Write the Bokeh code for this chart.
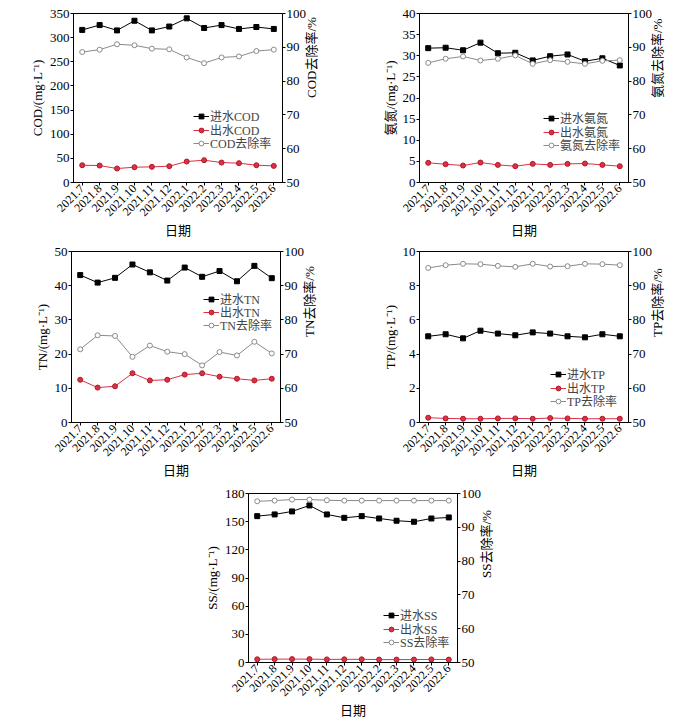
import math
from bokeh.plotting import figure
from bokeh.models import LinearAxis, Range1d, FixedTicker, Legend, Spacer
from bokeh.layouts import column, row
from bokeh.embed import file_html
from bokeh.resources import INLINE

months = ["2021.7", "2021.8", "2021.9", "2021.10", "2021.11", "2021.12",
          "2022.1", "2022.2", "2022.3", "2022.4", "2022.5", "2022.6"]

cod_in = [316, 326, 315, 335, 315, 323, 340, 320, 326, 318, 322, 318]
cod_out = [35.8, 35.1, 28.9, 31.7, 32.4, 33.8, 43.4, 46.2, 41.3, 40.0, 35.8, 34.4]
cod_rate = [88.6, 89.3, 90.9, 90.6, 89.6, 89.4, 87.0, 85.3, 87.0, 87.3, 88.9, 89.3]

nh_in = [31.8, 31.9, 31.3, 33.1, 30.6, 30.7, 28.9, 29.9, 30.3, 28.7, 29.4, 27.7]
nh_out = [4.65, 4.33, 4.02, 4.72, 4.17, 3.86, 4.41, 4.17, 4.41, 4.49, 4.17, 3.86]
nh_rate = [85.4, 86.6, 87.3, 86.1, 86.6, 87.6, 85.1, 86.2, 85.7, 85.1, 86.0, 86.2]

tn_in = [43.1, 40.9, 42.3, 46.2, 43.9, 41.5, 45.3, 42.6, 44.3, 41.3, 45.8, 42.2]
tn_out = [12.5, 10.2, 10.6, 14.4, 12.3, 12.5, 14.0, 14.4, 13.4, 12.8, 12.3, 12.8]
tn_rate = [71.4, 75.5, 75.3, 69.2, 72.5, 70.7, 70.0, 66.7, 70.6, 69.6, 73.6, 70.2]

tp_in = [5.04, 5.16, 4.92, 5.37, 5.20, 5.10, 5.27, 5.20, 5.04, 4.98, 5.16, 5.04]
tp_out = [0.28, 0.24, 0.22, 0.22, 0.24, 0.24, 0.22, 0.26, 0.24, 0.22, 0.22, 0.22]
tp_rate = [95.2, 96.0, 96.4, 96.3, 95.8, 95.5, 96.4, 95.6, 95.7, 96.4, 96.3, 96.0]

ss_in = [155.9, 157.7, 160.9, 167.3, 157.7, 154.1, 155.9, 153.4, 151.0, 149.9, 153.4, 154.5]
ss_out = [3.4, 3.6, 3.6, 3.6, 3.3, 3.4, 3.4, 3.1, 3.1, 3.1, 3.3, 3.1]
ss_rate = [97.7, 97.9, 98.2, 98.2, 98.0, 97.9, 97.9, 97.9, 97.9, 97.9, 97.9, 97.9]

SERIF = "Liberation Serif, Noto Sans CJK SC"
RED = "#dc3045"
GREY = "#8a8a8a"


def style_axis(ax, tick_size="13px"):
    ax.major_label_text_font = SERIF
    ax.major_label_text_font_size = tick_size
    ax.major_label_text_color = "black"
    ax.major_label_standoff = 1
    ax.axis_label_text_font = SERIF
    ax.axis_label_text_font_size = "13px"
    ax.axis_label_text_font_style = "normal"
    ax.axis_label_text_color = "black"
    ax.axis_label_standoff = 2
    ax.axis_line_color = "black"
    ax.major_tick_line_color = "black"
    ax.major_tick_in = 0
    ax.major_tick_out = 3
    ax.minor_tick_line_color = None


def add_entry(p, label, renderers, x, y):
    lg = Legend(items=[(label, renderers)], location=(x, y))
    lg.label_text_font = SERIF
    lg.label_text_font_size = "12px"
    lg.label_height = 12
    lg.glyph_height = 12
    lg.glyph_width = 16
    lg.label_standoff = 1
    lg.spacing = 0
    lg.padding = 0
    lg.margin = 0
    lg.background_fill_alpha = 0
    lg.border_line_alpha = 0
    p.add_layout(lg, "center")


def make_panel(name, left_label, ymax, ystep, vin, vout, vrate,
               width, height, bl, br, bt, bb, leg_x, leg_ys):
    p = figure(width=width, height=height, output_backend="svg",
               toolbar_location=None, x_range=Range1d(-0.5, 11.5),
               y_range=Range1d(0, ymax),
               min_border_left=bl, min_border_right=br,
               min_border_top=bt, min_border_bottom=bb)
    p.xgrid.visible = False
    p.ygrid.visible = False
    p.outline_line_color = "black"
    p.outline_line_width = 1
    p.background_fill_color = "white"
    p.border_fill_color = "white"
    xs = list(range(len(months)))

    p.extra_y_ranges = {"rate": Range1d(50, 100)}
    rax = LinearAxis(y_range_name="rate", axis_label=name + "去除率/%",
                     ticker=FixedTicker(ticks=[50, 60, 70, 80, 90, 100]))
    style_axis(rax)
    if "axis_label_orientation" in rax.properties():
        rax.axis_label_orientation = math.pi / 2
    p.add_layout(rax, "right")

    xa = p.xaxis[0]
    xa.ticker = FixedTicker(ticks=xs)
    xa.major_label_overrides = {i: m for i, m in enumerate(months)}
    xa.major_label_orientation = math.pi / 4
    xa.axis_label = "日期"
    style_axis(xa, "12px")
    xa.axis_label_standoff = 0
    xa.major_label_standoff = 1
    ya = p.yaxis[0]
    ya.ticker = FixedTicker(ticks=[ystep * k for k in range(int(round(ymax / ystep)) + 1)])
    ya.axis_label = left_label
    style_axis(ya)

    r1 = p.line(xs, vin, line_color="black", line_width=1)
    r1m = p.scatter(xs, vin, marker="square", size=5, fill_color="black", line_color="black")
    r2 = p.line(xs, vout, line_color=RED, line_width=1)
    r2m = p.scatter(xs, vout, marker="circle", size=5, fill_color=RED, line_color="#b01828")
    r3 = p.line(xs, vrate, line_color=GREY, line_width=1, y_range_name="rate")
    r3m = p.scatter(xs, vrate, marker="circle", size=5, fill_color="white",
                    line_color=GREY, y_range_name="rate")

    add_entry(p, "进水" + name, [r1, r1m], leg_x, leg_ys[0])
    add_entry(p, "出水" + name, [r2, r2m], leg_x, leg_ys[1])
    add_entry(p, name + "去除率", [r3, r3m], leg_x, leg_ys[2])
    return p


p1 = make_panel("COD", "COD/(mg·L⁻¹)", 350, 50, cod_in, cod_out, cod_rate,
                361, 240, 73, 79, 13, 58, 120, (57, 43, 30))
p2 = make_panel("氨氮", "氨氮/(mg·L⁻¹)", 40, 5, nh_in, nh_out, nh_rate,
                339, 240, 58, 72, 13, 58, 124, (55, 41, 28))
p3 = make_panel("TN", "TN/(mg·L⁻¹)", 50, 10, tn_in, tn_out, tn_rate,
                361, 240, 71, 81, 11, 58, 132, (114, 101, 88))
p4 = make_panel("TP", "TP/(mg·L⁻¹)", 10, 2, tp_in, tp_out, tp_rate,
                339, 240, 58, 72, 11, 58, 131, (39, 25, 12))
p5 = make_panel("SS", "SS/(mg·L⁻¹)", 180, 30, ss_in, ss_out, ss_rate,
                333, 240, 52, 72, 13, 58, 135, (38, 24, 11))

layout = column(row(p1, p2), row(p3, p4), row(Spacer(width=196, height=240), p5))

open("out.html", "w").write(file_html(layout, INLINE))
